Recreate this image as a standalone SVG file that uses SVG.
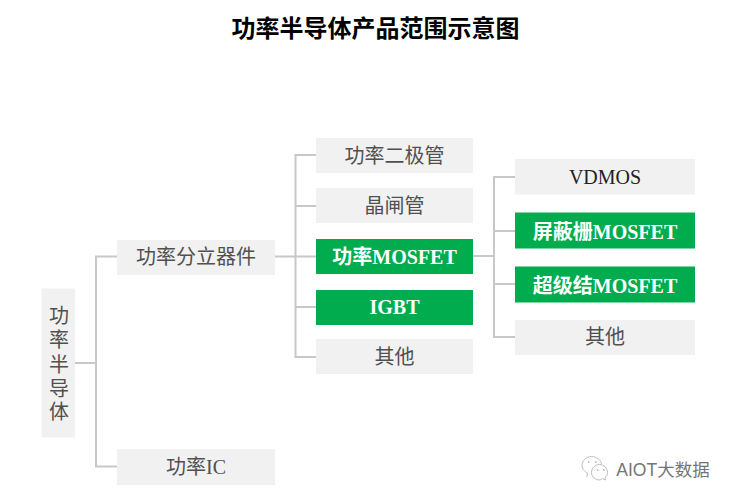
<svg xmlns="http://www.w3.org/2000/svg" width="733" height="501" viewBox="0 0 733 501">
<style>
text{font-family:"Liberation Serif","Noto Sans CJK SC",serif;text-anchor:middle;font-size:20px}
.g rect{fill:#f1f1f1}.g text{fill:#505050}
.h rect{fill:#00ac4e}.h text{fill:#fff;font-weight:bold}
#connectors path{fill:none;stroke:#c8c8c8;stroke-width:2}
</style>
<rect width="733" height="501" fill="#fff"/>
<text x="375.500" y="37" style="font-size:24px;font-weight:bold" fill="#000">功率半导体产品范围示意图</text>
<g id="connectors">
<path d="M75 363H96M117 256.500H96V466.500H117"/>
<path d="M275 256.500H316M316 155H295.500V357H316M295.500 206H316M295.500 307H316"/>
<path d="M473 256H494M515 177H494V337H515M494 231H515M494 284H515"/>
</g>
<g id="n-root" class="g"><rect x="41.500" y="288.500" width="33.500" height="149"/>
<text x="59" y="323">功</text><text x="59" y="347">率</text><text x="59" y="372">半</text><text x="59" y="396">导</text><text x="59" y="419">体</text></g>
<g id="n-discrete" class="g"><rect x="117" y="240" width="158" height="35"/><text x="196" y="264">功率分立器件</text></g>
<g id="n-ic" class="g"><rect x="117" y="449" width="158" height="36"/><text x="196" y="474">功率IC</text></g>
<g id="n-diode" class="g"><rect x="316" y="138" width="157" height="35"/><text x="394.500" y="163">功率二极管</text></g>
<g id="n-thyristor" class="g"><rect x="316" y="188" width="157" height="35"/><text x="394.500" y="213">晶闸管</text></g>
<g id="n-mosfet" class="h"><rect x="316" y="239" width="157" height="35"/><text x="394.500" y="264">功率MOSFET</text></g>
<g id="n-igbt" class="h"><rect x="316" y="290" width="157" height="35"/><text x="394.500" y="314">IGBT</text></g>
<g id="n-other1" class="g"><rect x="316" y="339" width="157" height="35"/><text x="394.500" y="364">其他</text></g>
<g id="n-vdmos" class="g"><rect x="515" y="159" width="180" height="35.500"/><text x="605" y="184" style="fill:#222">VDMOS</text></g>
<g id="n-shield" class="h"><rect x="515" y="212.500" width="180" height="36"/><text x="605" y="238.500">屏蔽栅MOSFET</text></g>
<g id="n-super" class="h"><rect x="515" y="266.500" width="180" height="36"/><text x="605" y="292.500">超级结MOSFET</text></g>
<g id="n-other2" class="g"><rect x="515" y="320" width="180" height="35"/><text x="605" y="344">其他</text></g>
<g id="watermark" fill="none" stroke="#bdbdbd" stroke-width="1">
<path d="M587 477l.5-4c-3-1.500-5.500-4-5.500-7.500 0-5 4.500-9 9.500-9s9.500 3.500 10 7.500"/>
<path d="M600 480c-4.500 0-8.500-3-8.500-7.500s4-8 8-8 8 3.500 8 8c0 2.500-1 4-2.500 5l.5 2.500-3-1.500z"/>
<path d="M588 462h1.500M595 462h1.500M597 470h1.500M603 470h1.500" stroke="#888"/>
</g>
<text x="663" y="476" style="font-family:'Liberation Sans','Noto Sans CJK SC',sans-serif;font-size:17.500px" fill="#757575">AIOT大数据</text>
</svg>
